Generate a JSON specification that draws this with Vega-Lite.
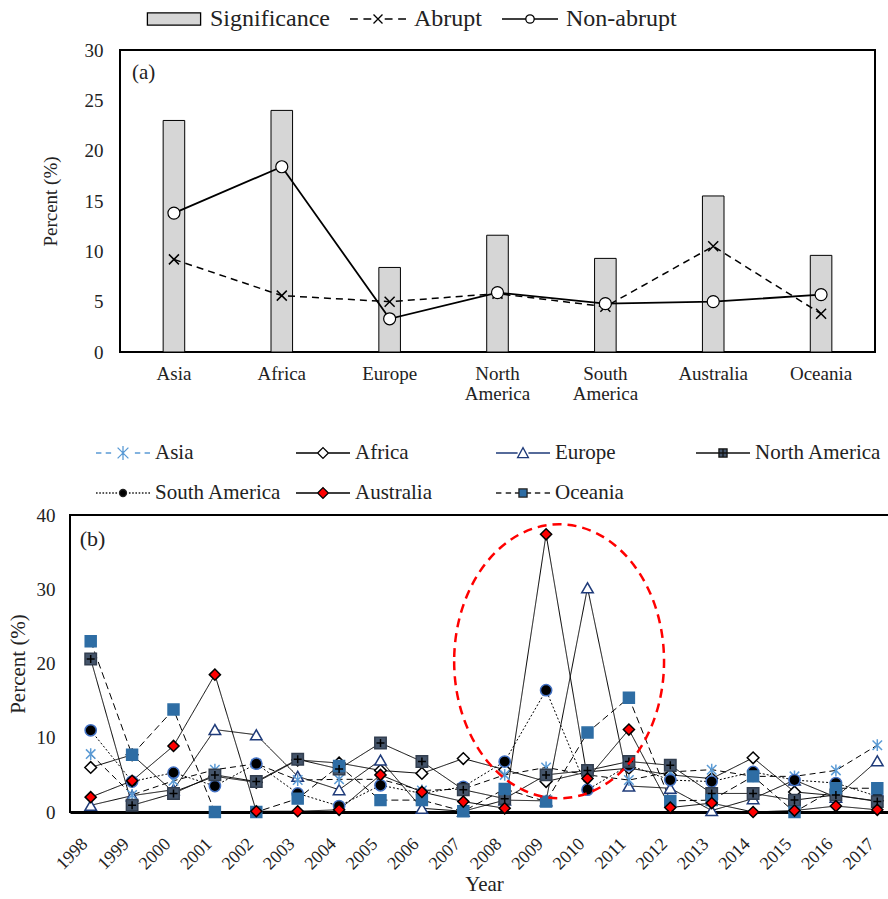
{
  "$schema": "https://vega.github.io/schema/vega-lite/v6.json",
  "padding": {"left": 6, "top": 6, "right": 0, "bottom": 0},
  "config": {
    "font": "Liberation Serif",
    "view": {"stroke": "#000", "strokeWidth": 2},
    "axis": {"labelColor": "#222", "titleColor": "#222", "titleFontWeight": "normal", "grid": false, "ticks": false, "domain": false, "labelFont": "Liberation Serif", "titleFont": "Liberation Serif"},
    "legend": {"labelFont": "Liberation Serif", "labelColor": "#222"}
  },
  "bounds": "flush",
  "spacing": 465,
  "vconcat": [
    {
      "bounds": "flush",
      "spacing": 0,
      "hconcat": [
        {"width": 50, "height": 302, "view": {"stroke": null}, "data": {"values": []}, "mark": {"type": "point", "opacity": 0}},
        {
          "width": 755,
          "height": 302,
          "data": {"values": [
            {"region": "Asia", "Significance": 23.0, "Abrupt": 9.2, "Non-abrupt": 13.8},
            {"region": "Africa", "Significance": 24.0, "Abrupt": 5.6, "Non-abrupt": 18.4},
            {"region": "Europe", "Significance": 8.4, "Abrupt": 5.0, "Non-abrupt": 3.3},
            {"region": "North America", "Significance": 11.6, "Abrupt": 5.8, "Non-abrupt": 5.9},
            {"region": "South America", "Significance": 9.3, "Abrupt": 4.5, "Non-abrupt": 4.8},
            {"region": "Australia", "Significance": 15.5, "Abrupt": 10.5, "Non-abrupt": 5.0},
            {"region": "Oceania", "Significance": 9.6, "Abrupt": 3.8, "Non-abrupt": 5.7}
          ]},
          "encoding": {
            "x": {"field": "region", "type": "nominal",
              "scale": {"domain": ["Asia", "Africa", "Europe", "North America", "South America", "Australia", "Oceania"], "paddingInner": 0.8, "paddingOuter": 0.4},
              "axis": {"title": null, "labelAngle": 0, "labelFontSize": 19, "labelPadding": 12, "labelExpr": "split(datum.label, ' ')", "labelLineHeight": 20}}
          },
          "layer": [
            {"mark": {"type": "bar", "fill": "#d6d6d6", "stroke": "#000", "strokeWidth": 1},
             "encoding": {"y": {"field": "Significance", "type": "quantitative", "title": "Percent (%)", "scale": {"domain": [0, 30]},
               "axis": {"values": [0, 5, 10, 15, 20, 25, 30], "titleFontSize": 19, "labelFontSize": 19, "labelPadding": 17, "titlePadding": 24}}}},
            {"mark": {"type": "line", "stroke": "#000", "strokeWidth": 1.5, "strokeDash": [7, 5]},
             "encoding": {"y": {"field": "Abrupt", "type": "quantitative", "title": "Percent (%)"}}},
            {"mark": {"type": "point", "shape": "M-1,-1L1,1M-1,1L1,-1", "size": 100, "stroke": "#000", "strokeWidth": 1.5, "filled": false, "opacity": 1},
             "encoding": {"y": {"field": "Abrupt", "type": "quantitative", "title": "Percent (%)"}}},
            {"mark": {"type": "line", "stroke": "#000", "strokeWidth": 1.8},
             "encoding": {"y": {"field": "Non-abrupt", "type": "quantitative", "title": "Percent (%)"}}},
            {"mark": {"type": "point", "shape": "circle", "size": 144, "fill": "#fff", "stroke": "#000", "strokeWidth": 1.2, "filled": true, "opacity": 1},
             "encoding": {"y": {"field": "Non-abrupt", "type": "quantitative", "title": "Percent (%)"}}},
            {"data": {"values": [{"label": "(a)"}]},
             "mark": {"type": "text", "align": "left", "baseline": "middle", "fontSize": 21, "dx": -42, "color": "#222"},
             "encoding": {"x": {"datum": "Asia"}, "y": {"datum": 27.7}, "text": {"field": "label"}}},
            {"transform": [{"fold": ["Significance", "Abrupt", "Non-abrupt"], "as": ["series", "value"]}],
             "mark": {"type": "point", "opacity": 0, "size": 3136, "filled": true},
             "encoding": {
               "y": {"field": "value", "type": "quantitative", "title": "Percent (%)"},
               "shape": {"field": "series", "type": "nominal",
                 "scale": {"domain": ["Significance", "Abrupt", "Non-abrupt"],
                   "range": ["M-0.95,-0.22H0.95V0.22H-0.95Z",
                             "M-1,0H-0.72M-0.52,0H-0.24M-0.16,-0.16L0.16,0.16M-0.16,0.16L0.16,-0.16M0.24,0H0.52M0.72,0H1",
                             "M-1,0H-0.15M0.15,0H1M-0.15,0A0.15,0.15 0 1,0 0.15,0A0.15,0.15 0 1,0 -0.15,0"]},
                 "legend": {"title": null, "orient": "none", "legendX": 75, "legendY": -44, "direction": "horizontal", "columns": 3, "labelFontSize": 24, "symbolSize": 3136, "symbolOpacity": 1, "symbolStrokeWidth": 1.3, "labelOffset": 7, "columnPadding": 19, "clipHeight": 26, "padding": 0}},
               "fill": {"field": "series", "type": "nominal", "scale": {"domain": ["Significance", "Abrupt", "Non-abrupt"], "range": ["#d6d6d6", "transparent", "#ffffff"]}},
               "stroke": {"field": "series", "type": "nominal", "scale": {"domain": ["Significance", "Abrupt", "Non-abrupt"], "range": ["#000000", "#000000", "#000000"]}}
             }}
          ]
        }
      ]
    },
    {
      "width": 828,
      "height": 297,
      "data": {"values": [
        {"series": "Africa", "year": "1998", "value": 6.0}, {"series": "Africa", "year": "1999", "value": 7.7}, {"series": "Africa", "year": "2000", "value": 2.7}, {"series": "Africa", "year": "2001", "value": 4.8}, {"series": "Africa", "year": "2002", "value": 4.0}, {"series": "Africa", "year": "2003", "value": 7.0}, {"series": "Africa", "year": "2004", "value": 6.6}, {"series": "Africa", "year": "2005", "value": 5.6}, {"series": "Africa", "year": "2006", "value": 5.2}, {"series": "Africa", "year": "2007", "value": 7.2}, {"series": "Africa", "year": "2008", "value": 5.7}, {"series": "Africa", "year": "2009", "value": 4.1}, {"series": "Africa", "year": "2010", "value": 5.4}, {"series": "Africa", "year": "2011", "value": 5.9}, {"series": "Africa", "year": "2012", "value": 5.0}, {"series": "Africa", "year": "2013", "value": 4.5}, {"series": "Africa", "year": "2014", "value": 7.3}, {"series": "Africa", "year": "2015", "value": 2.7}, {"series": "Africa", "year": "2016", "value": 2.2}, {"series": "Africa", "year": "2017", "value": 1.5},
        {"series": "Europe", "year": "1998", "value": 0.9}, {"series": "Europe", "year": "1999", "value": 2.2}, {"series": "Europe", "year": "2000", "value": 3.0}, {"series": "Europe", "year": "2001", "value": 11.1}, {"series": "Europe", "year": "2002", "value": 10.4}, {"series": "Europe", "year": "2003", "value": 4.8}, {"series": "Europe", "year": "2004", "value": 3.0}, {"series": "Europe", "year": "2005", "value": 7.0}, {"series": "Europe", "year": "2006", "value": 0.5}, {"series": "Europe", "year": "2007", "value": 0.1}, {"series": "Europe", "year": "2008", "value": 1.6}, {"series": "Europe", "year": "2009", "value": 1.5}, {"series": "Europe", "year": "2010", "value": 30.2}, {"series": "Europe", "year": "2011", "value": 3.5}, {"series": "Europe", "year": "2012", "value": 3.2}, {"series": "Europe", "year": "2013", "value": 0.2}, {"series": "Europe", "year": "2014", "value": 1.8}, {"series": "Europe", "year": "2015", "value": 4.3}, {"series": "Europe", "year": "2016", "value": 2.0}, {"series": "Europe", "year": "2017", "value": 6.9},
        {"series": "Asia", "year": "1998", "value": 7.8}, {"series": "Asia", "year": "1999", "value": 2.3}, {"series": "Asia", "year": "2000", "value": 4.2}, {"series": "Asia", "year": "2001", "value": 5.7}, {"series": "Asia", "year": "2002", "value": 6.5}, {"series": "Asia", "year": "2003", "value": 4.3}, {"series": "Asia", "year": "2004", "value": 4.4}, {"series": "Asia", "year": "2005", "value": 4.4}, {"series": "Asia", "year": "2006", "value": 2.9}, {"series": "Asia", "year": "2007", "value": 3.1}, {"series": "Asia", "year": "2008", "value": 5.0}, {"series": "Asia", "year": "2009", "value": 6.0}, {"series": "Asia", "year": "2010", "value": 5.0}, {"series": "Asia", "year": "2011", "value": 4.3}, {"series": "Asia", "year": "2012", "value": 5.4}, {"series": "Asia", "year": "2013", "value": 5.7}, {"series": "Asia", "year": "2014", "value": 4.8}, {"series": "Asia", "year": "2015", "value": 4.8}, {"series": "Asia", "year": "2016", "value": 5.6}, {"series": "Asia", "year": "2017", "value": 9.0},
        {"series": "South America", "year": "1998", "value": 11.0}, {"series": "South America", "year": "1999", "value": 4.1}, {"series": "South America", "year": "2000", "value": 5.3}, {"series": "South America", "year": "2001", "value": 3.5}, {"series": "South America", "year": "2002", "value": 6.5}, {"series": "South America", "year": "2003", "value": 2.5}, {"series": "South America", "year": "2004", "value": 0.8}, {"series": "South America", "year": "2005", "value": 3.6}, {"series": "South America", "year": "2006", "value": 2.5}, {"series": "South America", "year": "2007", "value": 3.4}, {"series": "South America", "year": "2008", "value": 6.8}, {"series": "South America", "year": "2009", "value": 16.4}, {"series": "South America", "year": "2010", "value": 3.0}, {"series": "South America", "year": "2011", "value": 6.3}, {"series": "South America", "year": "2012", "value": 4.3}, {"series": "South America", "year": "2013", "value": 4.1}, {"series": "South America", "year": "2014", "value": 5.4}, {"series": "South America", "year": "2015", "value": 4.3}, {"series": "South America", "year": "2016", "value": 3.9}, {"series": "South America", "year": "2017", "value": 2.1},
        {"series": "North America", "year": "1998", "value": 20.6}, {"series": "North America", "year": "1999", "value": 0.9}, {"series": "North America", "year": "2000", "value": 2.5}, {"series": "North America", "year": "2001", "value": 5.0}, {"series": "North America", "year": "2002", "value": 4.1}, {"series": "North America", "year": "2003", "value": 7.1}, {"series": "North America", "year": "2004", "value": 5.8}, {"series": "North America", "year": "2005", "value": 9.3}, {"series": "North America", "year": "2006", "value": 6.8}, {"series": "North America", "year": "2007", "value": 3.0}, {"series": "North America", "year": "2008", "value": 1.8}, {"series": "North America", "year": "2009", "value": 5.0}, {"series": "North America", "year": "2010", "value": 5.6}, {"series": "North America", "year": "2011", "value": 6.8}, {"series": "North America", "year": "2012", "value": 6.3}, {"series": "North America", "year": "2013", "value": 2.5}, {"series": "North America", "year": "2014", "value": 2.5}, {"series": "North America", "year": "2015", "value": 1.6}, {"series": "North America", "year": "2016", "value": 2.3}, {"series": "North America", "year": "2017", "value": 1.4},
        {"series": "Oceania", "year": "1998", "value": 23.0}, {"series": "Oceania", "year": "1999", "value": 7.7}, {"series": "Oceania", "year": "2000", "value": 13.8}, {"series": "Oceania", "year": "2001", "value": 0.0}, {"series": "Oceania", "year": "2002", "value": 0.0}, {"series": "Oceania", "year": "2003", "value": 1.8}, {"series": "Oceania", "year": "2004", "value": 6.2}, {"series": "Oceania", "year": "2005", "value": 1.6}, {"series": "Oceania", "year": "2006", "value": 1.6}, {"series": "Oceania", "year": "2007", "value": 0.1}, {"series": "Oceania", "year": "2008", "value": 3.1}, {"series": "Oceania", "year": "2009", "value": 1.4}, {"series": "Oceania", "year": "2010", "value": 10.7}, {"series": "Oceania", "year": "2011", "value": 15.4}, {"series": "Oceania", "year": "2012", "value": 1.5}, {"series": "Oceania", "year": "2013", "value": 1.6}, {"series": "Oceania", "year": "2014", "value": 4.8}, {"series": "Oceania", "year": "2015", "value": 0.0}, {"series": "Oceania", "year": "2016", "value": 3.2}, {"series": "Oceania", "year": "2017", "value": 3.2},
        {"series": "Australia", "year": "1998", "value": 2.0}, {"series": "Australia", "year": "1999", "value": 4.2}, {"series": "Australia", "year": "2000", "value": 8.9}, {"series": "Australia", "year": "2001", "value": 18.5}, {"series": "Australia", "year": "2002", "value": 0.1}, {"series": "Australia", "year": "2003", "value": 0.1}, {"series": "Australia", "year": "2004", "value": 0.3}, {"series": "Australia", "year": "2005", "value": 5.0}, {"series": "Australia", "year": "2006", "value": 2.7}, {"series": "Australia", "year": "2007", "value": 1.4}, {"series": "Australia", "year": "2008", "value": 0.5}, {"series": "Australia", "year": "2009", "value": 37.4}, {"series": "Australia", "year": "2010", "value": 4.5}, {"series": "Australia", "year": "2011", "value": 11.1}, {"series": "Australia", "year": "2012", "value": 0.6}, {"series": "Australia", "year": "2013", "value": 1.2}, {"series": "Australia", "year": "2014", "value": 0.0}, {"series": "Australia", "year": "2015", "value": 0.2}, {"series": "Australia", "year": "2016", "value": 0.8}, {"series": "Australia", "year": "2017", "value": 0.3}
      ]},
      "encoding": {
        "x": {"field": "year", "type": "ordinal",
          "scale": {"domain": ["1998", "1999", "2000", "2001", "2002", "2003", "2004", "2005", "2006", "2007", "2008", "2009", "2010", "2011", "2012", "2013", "2014", "2015", "2016", "2017"]},
          "axis": {"title": "Year", "titleFontSize": 21, "labelAngle": -45, "labelBaseline": "middle", "labelAlign": "right", "labelOffset": -6, "labelFontSize": 18, "labelPadding": 29, "domain": true, "domainColor": "#000", "domainWidth": 3, "titlePadding": 1}}
      },
      "resolve": {"scale": {"shape": "independent", "fill": "independent", "stroke": "independent", "size": "independent", "strokeWidth": "independent"}},
      "layer": [
        {"mark": {"type": "line", "stroke": "#000"},
         "encoding": {
           "y": {"field": "value", "type": "quantitative", "title": "Percent (%)", "scale": {"domain": [0, 40]},
             "axis": {"values": [0, 10, 20, 30, 40], "titleFontSize": 21, "labelFontSize": 19, "labelPadding": 15, "titlePadding": 8}},
           "detail": {"field": "series"},
           "strokeDash": {"field": "series", "type": "nominal", "legend": null,
             "scale": {"domain": ["Asia", "Africa", "Europe", "North America", "South America", "Australia", "Oceania"], "range": [[6, 4], [1, 0], [1, 0], [1, 0], [2, 2], [1, 0], [7, 4]]}},
           "strokeWidth": {"field": "series", "type": "nominal", "legend": null,
             "scale": {"domain": ["Asia", "Africa", "Europe", "North America", "South America", "Australia", "Oceania"], "range": [1, 1, 1.6, 1, 1, 1, 1]}}
         }},
        {"mark": {"type": "point", "filled": true, "opacity": 1},
         "encoding": {
           "y": {"field": "value", "type": "quantitative", "title": "Percent (%)"},
           "shape": {"field": "series", "type": "nominal", "legend": null,
             "scale": {"domain": ["Asia", "Africa", "Europe", "North America", "South America", "Australia", "Oceania"], "range": ["M-0.8,-0.8L0.8,0.8M-0.8,0.8L0.8,-0.8M0,-1V1", "diamond", "triangle-up", "square", "circle", "diamond", "square"]}},
           "fill": {"field": "series", "type": "nominal", "legend": null,
             "scale": {"domain": ["Asia", "Africa", "Europe", "North America", "South America", "Australia", "Oceania"], "range": ["transparent", "#ffffff", "#ffffff", "#44546a", "#000000", "#ff0000", "#2e6da4"]}},
           "stroke": {"field": "series", "type": "nominal", "legend": null,
             "scale": {"domain": ["Asia", "Africa", "Europe", "North America", "South America", "Australia", "Oceania"], "range": ["#5b9bd5", "#000000", "#1f3b7a", "#333f50", "#4472c4", "#000000", "#2e6da4"]}},
           "size": {"field": "series", "type": "nominal", "legend": null,
             "scale": {"domain": ["Asia", "Africa", "Europe", "North America", "South America", "Australia", "Oceania"], "range": [140, 120, 180, 110, 90, 160, 110]}},
           "strokeWidth": {"field": "series", "type": "nominal", "legend": null,
             "scale": {"domain": ["Asia", "Africa", "Europe", "North America", "South America", "Australia", "Oceania"], "range": [1.5, 1.5, 1.8, 1, 2, 1, 0.5]}}
         }},
        {"transform": [{"filter": "datum.series === 'North America'"}],
         "mark": {"type": "point", "shape": "M-1,0H1M0,-1V1", "size": 64, "stroke": "#000", "strokeWidth": 1.5, "filled": false, "opacity": 1},
         "encoding": {"y": {"field": "value", "type": "quantitative", "title": "Percent (%)"}}},
        {"data": {"values": [{"note": "highlight"}]},
         "mark": {"type": "point", "shape": "M-0.766,0A0.766,1 0 1,0 0.766,0A0.766,1 0 1,0 -0.766,0", "size": 75076, "filled": false, "stroke": "#ff0000", "strokeWidth": 2.5, "strokeDash": [9, 6], "xOffset": 13, "opacity": 1},
         "encoding": {"x": {"datum": "2009"}, "y": {"datum": 20.3}}},
        {"data": {"values": [{"label": "(b)"}]},
         "mark": {"type": "text", "align": "left", "baseline": "middle", "fontSize": 22, "dx": -11, "color": "#222"},
         "encoding": {"x": {"datum": "1998"}, "y": {"datum": 36.8}, "text": {"field": "label"}}},
        {"mark": {"type": "point", "opacity": 0, "filled": true, "size": 2916},
         "encoding": {
           "y": {"field": "value", "type": "quantitative", "title": "Percent (%)"},
           "shape": {"field": "series", "type": "nominal",
             "scale": {"domain": ["Asia", "Africa", "Europe", "North America", "South America", "Australia", "Oceania"],
               "range": [
                 "M-1,0H-0.8M-0.64,0H-0.44M-0.2,-0.2L0.2,0.2M-0.2,0.2L0.2,-0.2M0,-0.26V0.26M0.44,0H0.64M0.8,0H1",
                 "M-1,0H-0.2M0.2,0H1M-0.2,0L0,-0.2L0.2,0L0,0.2Z",
                 "M-1,0H-0.2M0.2,0H1M-0.2,0.17L0,-0.2L0.2,0.17Z",
                 "M-1,0H-0.15M0.15,0H1M-0.15,-0.15H0.15V0.15H-0.15ZM0,-0.15V0.15M-0.15,0H0.15",
                 "M-1,0H-0.94M-0.88,0H-0.82M-0.76,0H-0.7M-0.64,0H-0.58M-0.52,0H-0.46M-0.4,0H-0.34M-0.28,0H-0.22M0.22,0H0.28M0.34,0H0.4M0.46,0H0.52M0.58,0H0.64M0.7,0H0.76M0.82,0H0.88M0.94,0H1M-0.13,0A0.13,0.13 0 1,0 0.13,0A0.13,0.13 0 1,0 -0.13,0",
                 "M-1,0H-0.2M0.2,0H1M-0.2,0L0,-0.2L0.2,0L0,0.2Z",
                 "M-1,0H-0.8M-0.64,0H-0.44M-0.3,0H-0.16M0.16,0H0.3M0.44,0H0.64M0.8,0H1M-0.15,-0.15H0.15V0.15H-0.15Z"]},
             "legend": {"title": null, "orient": "none", "legendX": 25, "legendY": -73, "direction": "horizontal", "columns": 4, "gridAlign": "all", "labelFontSize": 21, "symbolSize": 2916, "symbolOpacity": 1, "symbolStrokeWidth": 1.3, "labelOffset": 4, "columnPadding": 13, "rowPadding": 18, "clipHeight": 22, "padding": 0}},
           "fill": {"field": "series", "type": "nominal",
             "scale": {"domain": ["Asia", "Africa", "Europe", "North America", "South America", "Australia", "Oceania"], "range": ["transparent", "#ffffff", "#ffffff", "#44546a", "#000000", "#ff0000", "#2e6da4"]}},
           "stroke": {"field": "series", "type": "nominal",
             "scale": {"domain": ["Asia", "Africa", "Europe", "North America", "South America", "Australia", "Oceania"], "range": ["#5b9bd5", "#000000", "#1f3b7a", "#111111", "#222222", "#000000", "#222222"]}}
         }}
      ]
    }
  ]
}
